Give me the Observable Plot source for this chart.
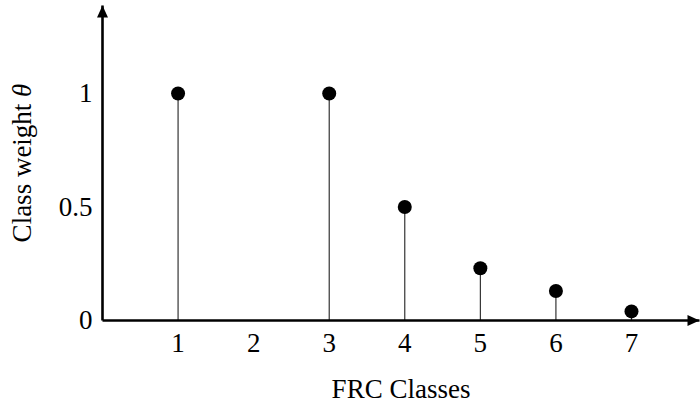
<!DOCTYPE html>
<html>
<head>
<meta charset="utf-8">
<script src="https://cdn.jsdelivr.net/npm/d3@7"></script>
<script src="https://cdn.jsdelivr.net/npm/@observablehq/plot@0.6"></script>
<style>
  html, body { margin: 0; padding: 0; background: #fff; }
  #chart svg { display: block; }
</style>
</head>
<body>
<div id="chart"></div>
<script>
// Data
const classes = [1, 3, 4, 5, 6, 7];
const weights = [1, 1, 0.5, 0.23, 0.13, 0.04];
const xTicks = [1, 2, 3, 4, 5, 6, 7];
const yTicks = [0, 0.5, 1];
const yTickLabels = ["0", "0.5", "1"];
const xLabel = "FRC Classes";
const yLabel = "Class weight θ";
const xMax = 7.9;
const yMax = 1.388;

const points = classes.map((c, i) => ({cls: c, w: weights[i]}));

function triMarker(color, context) {
  const doc = context.document;
  const ns = "http://www.w3.org/2000/svg";
  const m = doc.createElementNS(ns, "marker");
  m.setAttribute("viewBox", "-13 -7 14 14");
  m.setAttribute("markerUnits", "userSpaceOnUse");
  m.setAttribute("markerWidth", 14);
  m.setAttribute("markerHeight", 14);
  m.setAttribute("refX", 0);
  m.setAttribute("refY", 0);
  m.setAttribute("orient", "auto");
  const p = doc.createElementNS(ns, "path");
  p.setAttribute("d", "M-12,-5.5L0,0L-12,5.5Z");
  p.setAttribute("fill", "#000");
  p.setAttribute("stroke", "none");
  m.appendChild(p);
  return m;
}

const font = "'Liberation Serif', 'Times New Roman', serif";
const fs = 27;

const chart = Plot.plot({
  width: 700,
  height: 414,
  marginLeft: 102,
  marginRight: 1,
  marginTop: 5,
  marginBottom: 94,
  style: {fontFamily: font, fontSize: fs + "px", color: "#000", background: "#fff"},
  x: {domain: [0, xMax]},
  y: {domain: [0, yMax]},
  marks: [
    Plot.ruleX(points, {x: "cls", y1: 0, y2: "w", stroke: "#222", strokeWidth: 1.1}),
    Plot.link([{x1: 0, y1: 0, x2: xMax, y2: 0}], {x1: "x1", y1: "y1", x2: "x2", y2: "y2", stroke: "#000", strokeWidth: 2.6, markerEnd: triMarker}),
    Plot.link([{x1: 0, y1: 0, x2: 0, y2: yMax}], {x1: "x1", y1: "y1", x2: "x2", y2: "y2", stroke: "#000", strokeWidth: 2.6, markerEnd: triMarker}),
    Plot.dot(points, {x: "cls", y: "w", r: 7, fill: "#000", stroke: "none"}),
    Plot.axisX({ticks: xTicks, tickSize: 0, tickPadding: 12, label: null, fontSize: fs}),
    Plot.axisY({ticks: yTicks, tickFormat: (d) => yTickLabels[yTicks.indexOf(d)], tickSize: 0, tickPadding: 10, label: null, fontSize: fs}),
    Plot.text([xLabel], {frameAnchor: "bottom", dy: 77, text: d => d, fontSize: fs, textAnchor: "middle"}),
    Plot.text([yLabel], {frameAnchor: "left", dx: -80, rotate: -90, text: d => d, fontSize: fs, textAnchor: "middle"})
  ]
});

document.getElementById("chart").appendChild(chart);

// Italicize theta
chart.querySelectorAll("text").forEach(t => {
  if (t.textContent.includes("θ") && t.children.length === 0) {
    const txt = t.textContent;
    const idx = txt.indexOf("θ");
    t.textContent = txt.slice(0, idx);
    const ts = document.createElementNS("http://www.w3.org/2000/svg", "tspan");
    ts.setAttribute("font-style", "italic");
    ts.textContent = "θ";
    t.appendChild(ts);
  }
});
</script>
</body>
</html>
